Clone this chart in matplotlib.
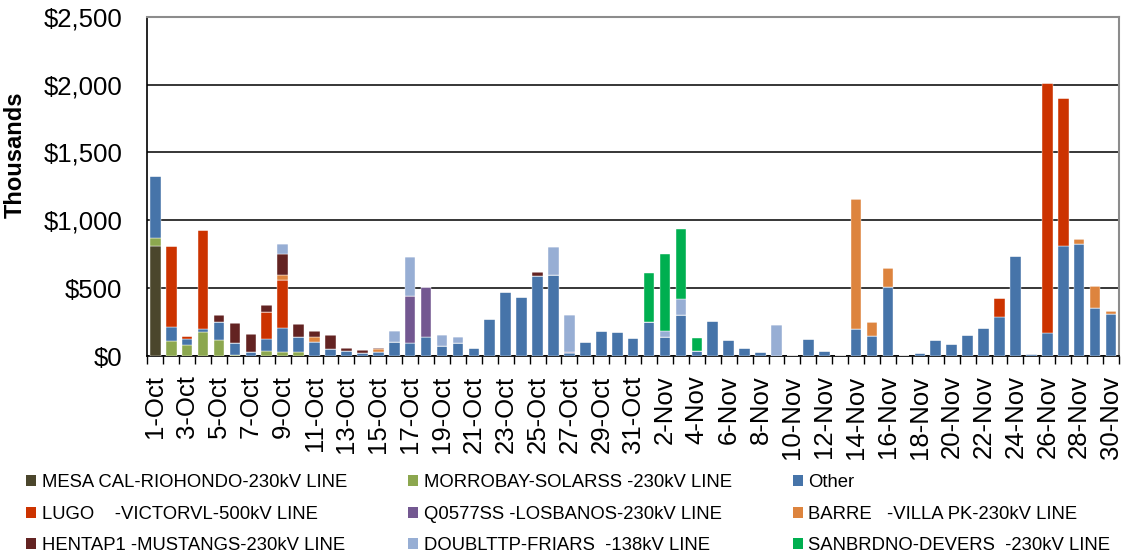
import matplotlib
matplotlib.use("Agg")
import matplotlib.pyplot as plt
from matplotlib.patches import Patch
from matplotlib.ticker import FuncFormatter, MultipleLocator
import numpy as np

plt.rcParams['font.family'] = ['Liberation Sans', 'DejaVu Sans']

# dates, 1-Oct .. 30-Nov
days = [f"{d}-Oct" for d in range(1, 32)] + [f"{d}-Nov" for d in range(1, 31)]

# values in thousands of $, one list per constraint (stack order bottom -> top)
mesa = [809, 0, 0, 0, 0, 0, 0, 0, 0, 0,
        0, 0, 0, 0, 0, 0, 0, 0, 0, 0,
        0, 0, 0, 0, 0, 0, 0, 0, 0, 0,
        0, 0, 0, 0, 0, 0, 0, 0, 0, 0,
        0, 0, 0, 0, 0, 0, 0, 0, 0, 0,
        0, 0, 0, 0, 0, 0, 0, 0, 0, 0, 0]
morrobay = [64, 110, 81, 176, 115, 5, 0, 37, 32, 29,
            0, 0, 0, 0, 0, 0, 0, 0, 0, 0,
            0, 0, 0, 0, 0, 0, 0, 0, 0, 0,
            0, 0, 0, 0, 0, 0, 0, 0, 0, 0,
            0, 0, 0, 0, 0, 0, 0, 0, 0, 0,
            0, 0, 0, 0, 0, 0, 0, 0, 0, 0, 0]
other = [456, 106, 42, 20, 133, 90, 29, 88, 171, 108,
         105, 54, 39, 20, 32, 105, 96, 137, 74, 93,
         61, 272, 470, 434, 591, 598, 25, 103, 184, 174,
         130, 248, 142, 299, 34, 260, 115, 61, 32, 0,
         0, 123, 34, 0, 201, 149, 507, 3, 22, 115,
         86, 152, 204, 289, 740, 17, 169, 811, 826, 355, 311]
lugo = [0, 595, 24, 730, 0, 0, 0, 201, 358, 0,
        0, 0, 0, 0, 0, 0, 0, 0, 0, 0,
        0, 0, 0, 0, 0, 0, 0, 0, 0, 0,
        0, 0, 0, 0, 0, 0, 0, 0, 0, 0,
        0, 0, 0, 0, 0, 0, 0, 0, 0, 0,
        0, 0, 0, 142, 0, 0, 1846, 1088, 0, 0, 0]
q0577 = [0, 0, 0, 0, 0, 0, 0, 0, 0, 0,
         0, 0, 0, 0, 0, 0, 345, 368, 0, 0,
         0, 0, 0, 0, 0, 0, 5, 0, 0, 0,
         3, 0, 0, 0, 0, 0, 0, 0, 0, 0,
         0, 0, 0, 0, 0, 0, 0, 0, 0, 0,
         0, 0, 0, 0, 0, 0, 0, 0, 0, 0, 0]
barre = [0, 0, 0, 0, 0, 0, 0, 0, 37, 0,
         35, 0, 0, 0, 19, 0, 0, 0, 0, 0,
         0, 0, 0, 0, 0, 0, 0, 0, 0, 0,
         0, 0, 0, 0, 0, 0, 0, 0, 0, 0,
         0, 0, 0, 0, 953, 103, 145, 0, 0, 0,
         0, 0, 0, 0, 0, 0, 0, 0, 39, 162, 22]
hentap = [0, 0, 0, 0, 51, 147, 130, 51, 152, 98,
          44, 98, 17, 24, 8, 0, 0, 0, 0, 0,
          0, 0, 0, 0, 27, 0, 0, 0, 0, 0,
          0, 0, 0, 0, 0, 0, 0, 0, 0, 0,
          0, 0, 0, 0, 0, 0, 0, 0, 0, 0,
          0, 0, 0, 0, 0, 0, 0, 0, 0, 0, 0]
doubltp = [0, 0, 0, 0, 0, 0, 0, 0, 76, 0,
           0, 0, 0, 0, 0, 81, 285, 0, 78, 44,
           0, 0, 5, 0, 0, 203, 271, 0, 0, 0,
           0, 0, 39, 120, 0, 0, 0, 0, 0, 225,
           0, 0, 0, 0, 0, 0, 0, 0, 0, 0,
           0, 0, 0, 0, 0, 0, 0, 0, 0, 0, 0]
sanbrdno = [0, 0, 0, 0, 0, 0, 0, 0, 0, 0,
            0, 0, 0, 0, 0, 0, 0, 0, 0, 0,
            0, 0, 0, 0, 0, 0, 0, 0, 0, 0,
            0, 360, 569, 515, 98, 0, 0, 0, 0, 0,
            0, 0, 0, 0, 0, 0, 0, 0, 0, 0,
            0, 0, 0, 0, 0, 0, 0, 0, 0, 0, 0]

series = [
    ("MESA CAL-RIOHONDO-230kV LINE", mesa, "#4B462C"),
    ("MORROBAY-SOLARSS -230kV LINE", morrobay, "#8CA74F"),
    ("Other", other, "#4674A9"),
    ("LUGO    -VICTORVL-500kV LINE", lugo, "#CC3300"),
    ("Q0577SS -LOSBANOS-230kV LINE", q0577, "#735891"),
    ("BARRE   -VILLA PK-230kV LINE", barre, "#DD843E"),
    ("HENTAP1 -MUSTANGS-230kV LINE", hentap, "#632322"),
    ("DOUBLTTP-FRIARS  -138kV LINE", doubltp, "#97AED4"),
    ("SANBRDNO-DEVERS  -230kV LINE", sanbrdno, "#00AF50"),
]

fig = plt.figure(figsize=(11.22, 5.54), dpi=100)
ax = fig.add_axes([0.1313, 0.3574, 0.866, 0.6125])

x = np.arange(len(days))
bottom = np.zeros(len(days))
handles = []
for name, vals, col in series:
    vals = np.array(vals, dtype=float)
    ax.bar(x, vals, 0.67, bottom=bottom, color=col, edgecolor='white', linewidth=0.3, zorder=3)
    bottom += vals
    handles.append(Patch(facecolor=col, label=name))

ax.set_xlim(-0.5, len(days) - 0.5)
ax.set_ylim(0, 2500)
ax.yaxis.set_major_locator(MultipleLocator(500))
ax.yaxis.set_major_formatter(FuncFormatter(lambda v, p: "${:,.0f}".format(v)))
ax.grid(axis='y', color='black', linewidth=1.1, zorder=0)
ax.tick_params(axis='y', length=0, pad=18, labelsize=18.5)

ax.set_xticks(x[::2])
ax.set_xticklabels(days[::2], rotation=90, fontsize=18.5)
ax.set_xticks(np.arange(-0.5, len(days), 1), minor=True)
ax.tick_params(axis='x', which='major', length=0, pad=14)
ax.tick_params(axis='x', which='minor', length=6, width=1, color='black', direction='out')

for s in ['top', 'right']:
    ax.spines[s].set_color('#8c8c8c')
    ax.spines[s].set_linewidth(1.5)
for s in ['left', 'bottom']:
    ax.spines[s].set_color('black')
    ax.spines[s].set_linewidth(1.2)

fig.text(15 / 1122, 0.72, "Thousands", rotation=90, fontsize=17, fontweight='bold',
         ha='center', va='center')

# legend rows as in the reference: fill column by column
order = [0, 3, 6, 1, 4, 7, 2, 5, 8]
fig.legend([handles[i] for i in order], [series[i][0] for i in order],
           loc='upper left', bbox_to_anchor=(26 / 1122, 0.144), ncol=3, frameon=False,
           fontsize=13.3, handlelength=0.55, handleheight=0.55, handletextpad=0.3,
           columnspacing=3.3, labelspacing=0.78, borderpad=0, borderaxespad=0)

fig.savefig("out.png", dpi=100)
